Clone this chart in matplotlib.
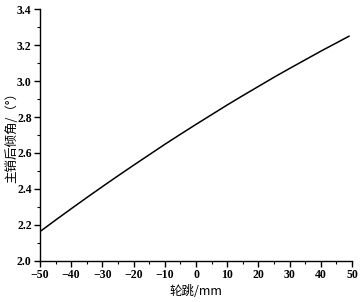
import matplotlib
matplotlib.use("Agg")
import matplotlib.pyplot as plt
from matplotlib.ticker import MultipleLocator

# wheel travel (mm) and caster angle (deg)
travel = [-50, -45, -40, -35, -30, -25, -20, -15, -10, -5, 0,
          5, 10, 15, 20, 25, 30, 35, 40, 45, 49]
caster = [2.163, 2.227, 2.290, 2.352, 2.413, 2.473, 2.532, 2.590, 2.648, 2.704, 2.759,
          2.813, 2.867, 2.919, 2.970, 3.021, 3.070, 3.118, 3.166, 3.212, 3.249]

cjk = ["Noto Sans CJK SC", "DejaVu Sans"]

fig = plt.figure(figsize=(3.6, 3.02), dpi=100)
ax = fig.add_axes([0.111, 0.136, 0.867, 0.834])

ax.plot(travel, caster, color="black", lw=1.1)

ax.set_xlim(-50, 50)
ax.set_ylim(2.0, 3.4)
ax.xaxis.set_major_locator(MultipleLocator(10))
ax.xaxis.set_minor_locator(MultipleLocator(5))
ax.yaxis.set_major_locator(MultipleLocator(0.2))
ax.yaxis.set_minor_locator(MultipleLocator(0.1))
ax.yaxis.set_major_formatter(plt.FormatStrFormatter("%.1f"))

for s in ["top", "right"]:
    ax.spines[s].set_visible(False)
for s in ["left", "bottom"]:
    ax.spines[s].set_linewidth(1.0)

ax.tick_params(which="major", direction="out", length=4, width=1.0, pad=2)
ax.tick_params(which="minor", direction="out", length=2, width=0.8)
for lab in ax.get_xticklabels() + ax.get_yticklabels():
    lab.set_fontfamily("Liberation Serif")
    lab.set_fontweight("bold")
    lab.set_fontsize(8.5)

ax.set_xlabel("轮跳/mm", family=["Liberation Sans Narrow", "Noto Sans CJK SC"],
              fontsize=9, labelpad=3)
ax.set_ylabel("主销后倾角/（°）", family=cjk, fontsize=9, labelpad=-1)

fig.savefig("out.png", dpi=100)
